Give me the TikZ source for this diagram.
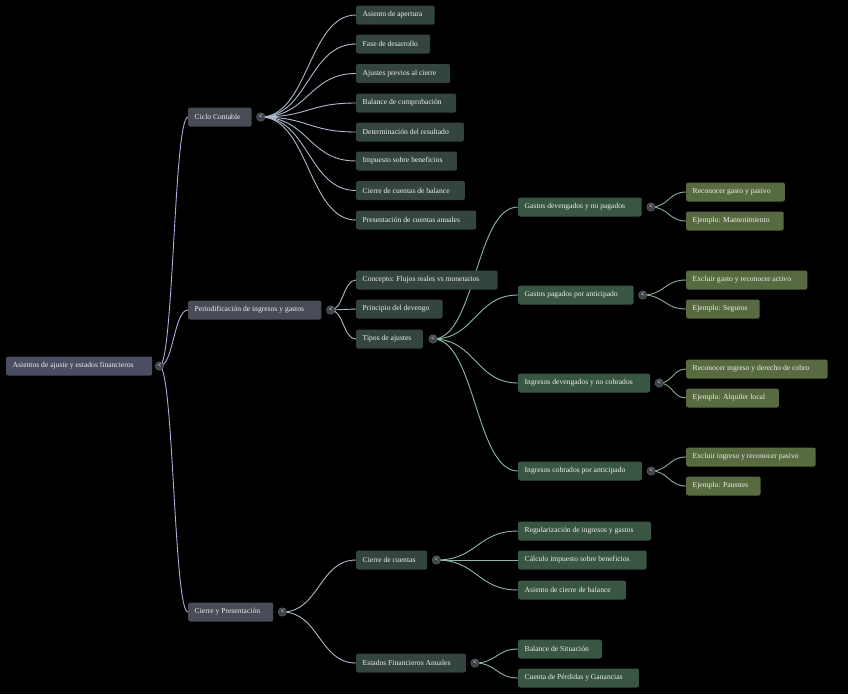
\documentclass[tikz,border=0pt]{standalone}
\usepackage{fontspec}
\setmainfont{Liberation Serif}
\usetikzlibrary{calc,backgrounds}
\definecolor{txt}{HTML}{EEEEEE}
\definecolor{rootfill}{HTML}{4B4E63}
\definecolor{onefill}{HTML}{474C57}
\definecolor{twofill}{HTML}{34453F}
\definecolor{threefill}{HTML}{385641}
\definecolor{fourfill}{HTML}{586B40}
\definecolor{togfill}{HTML}{3E4149}
\definecolor{togline}{HTML}{6A6E78}
\definecolor{rootlink}{HTML}{A9AEDC}
\definecolor{onelink}{HTML}{AEB9CC}
\definecolor{twolink}{HTML}{8DB9A3}
\definecolor{threelink}{HTML}{8AAE93}
% label with extra room on the right, growing with the text
\newcommand\padlbl[1]{\setbox0\hbox{#1}\copy0\kern0.1\wd0}

\begin{document}
\begin{tikzpicture}[x=1pt, y=-1pt,
  every node/.style={font=\fontsize{7.6}{9}\selectfont, text=txt},
  box/.style={rectangle, rounded corners=2pt, minimum height=19pt,
              inner xsep=6.5pt, inner ysep=0pt, anchor=west},
  rootbox/.style={box, fill=rootfill},
  lvlone/.style={box, fill=onefill},
  lvltwo/.style={box, fill=twofill},
  lvlthree/.style={box, fill=threefill},
  lvlfour/.style={box, fill=fourfill},
  tog/.style={circle, fill=togfill, draw=togline, line width=0.4pt,
              minimum size=8.5pt, inner sep=0pt,
              font=\fontsize{6.5}{6.5}\selectfont\bfseries},
  link/.style={line width=0.9pt, to path={let \p1=(\tikztostart), \p2=(\tikztotarget) in
               .. controls (\x1/2+\x2/2,\y1) and (\x1/2+\x2/2,\y2) .. (\tikztotarget)}}
]
\useasboundingbox (0,0) rectangle (848,694);

% root and first level
\node[rootbox] (R)  at (6,366)   {\padlbl{Asientos de ajuste y estados financieros}};
\node[lvlone]  (CC) at (188,117) {\padlbl{Ciclo Contable}};
\node[lvlone]  (PI) at (188,310) {\padlbl{Periodificación de ingresos y gastos}};
\node[lvlone]  (CP) at (188,612) {\padlbl{Cierre y Presentación}};

% Ciclo Contable
\node[lvltwo] (CC1) at (356,15)    {\padlbl{Asiento de apertura}};
\node[lvltwo] (CC2) at (356,44)    {\padlbl{Fase de desarrollo}};
\node[lvltwo] (CC3) at (356,73.5)  {\padlbl{Ajustes previos al cierre}};
\node[lvltwo] (CC4) at (356,103)   {\padlbl{Balance de comprobación}};
\node[lvltwo] (CC5) at (356,132)   {\padlbl{Determinación del resultado}};
\node[lvltwo] (CC6) at (356,161)   {\padlbl{Impuesto sobre beneficios}};
\node[lvltwo] (CC7) at (356,190.5) {\padlbl{Cierre de cuentas de balance}};
\node[lvltwo] (CC8) at (356,220)   {\padlbl{Presentación de cuentas anuales}};

% Periodificacion
\node[lvltwo] (PI1) at (356,280) {\padlbl{Concepto: Flujos reales vs monetarios}};
\node[lvltwo] (PI2) at (356,309) {\padlbl{Principio del devengo}};
\node[lvltwo] (PI3) at (356,339) {\padlbl{Tipos de ajustes}};

\node[lvlthree] (TA1) at (518,207) {\padlbl{Gastos devengados y no pagados}};
\node[lvlthree] (TA2) at (518,295) {\padlbl{Gastos pagados por anticipado}};
\node[lvlthree] (TA3) at (518,383) {\padlbl{Ingresos devengados y no cobrados}};
\node[lvlthree] (TA4) at (518,471) {\padlbl{Ingresos cobrados por anticipado}};

\node[lvlfour] (TA11) at (686,192) {\padlbl{Reconocer gasto y pasivo}};
\node[lvlfour] (TA12) at (686,221) {\padlbl{Ejemplo: Mantenimiento}};
\node[lvlfour] (TA21) at (686,280) {\padlbl{Excluir gasto y reconocer activo}};
\node[lvlfour] (TA22) at (686,309) {\padlbl{Ejemplo: Seguros}};
\node[lvlfour] (TA31) at (686,369) {\padlbl{Reconocer ingreso y derecho de cobro}};
\node[lvlfour] (TA32) at (686,398) {\padlbl{Ejemplo: Alquiler local}};
\node[lvlfour] (TA41) at (686,457) {\padlbl{Excluir ingreso y reconocer pasivo}};
\node[lvlfour] (TA42) at (686,486) {\padlbl{Ejemplo: Patentes}};

% Cierre y Presentacion
\node[lvltwo] (CP1) at (356,560) {\padlbl{Cierre de cuentas}};
\node[lvltwo] (CP2) at (356,663) {\padlbl{Estados Financieros Anuales}};

\node[lvlthree] (CP11) at (518,531) {\padlbl{Regularización de ingresos y gastos}};
\node[lvlthree] (CP12) at (518,560) {\padlbl{Cálculo impuesto sobre beneficios}};
\node[lvlthree] (CP13) at (518,590) {\padlbl{Asiento de cierre de balance}};
\node[lvlthree] (CP21) at (518,649) {\padlbl{Balance de Situación}};
\node[lvlthree] (CP22) at (518,678) {\padlbl{Cuenta de Pérdidas y Ganancias}};

% toggles
\node[tog] (Rx)   at ([xshift=7pt]R.east)    {<};
\node[tog] (CCx)  at ([xshift=9pt]CC.east)   {<};
\node[tog] (PIx)  at ([xshift=9pt]PI.east)   {<};
\node[tog] (CPx)  at ([xshift=9pt]CP.east)   {<};
\node[tog] (PI3x) at ([xshift=10pt]PI3.east) {<};
\node[tog] (TA1x) at ([xshift=9pt]TA1.east)  {<};
\node[tog] (TA2x) at ([xshift=9pt]TA2.east)  {<};
\node[tog] (TA3x) at ([xshift=9pt]TA3.east)  {<};
\node[tog] (TA4x) at ([xshift=9pt]TA4.east)  {<};
\node[tog] (CP1x) at ([xshift=9pt]CP1.east)  {<};
\node[tog] (CP2x) at ([xshift=9pt]CP2.east)  {<};

\begin{scope}[on background layer]
\fill[black] (0,0) rectangle (848,694);

\draw[link, rootlink] (Rx.center) to (CC.west);
\draw[link, rootlink] (Rx.center) to (PI.west);
\draw[link, rootlink] (Rx.center) to (CP.west);

\draw[link, onelink] (CCx.center) to (CC1.west);
\draw[link, onelink] (CCx.center) to (CC2.west);
\draw[link, onelink] (CCx.center) to (CC3.west);
\draw[link, onelink] (CCx.center) to (CC4.west);
\draw[link, onelink] (CCx.center) to (CC5.west);
\draw[link, onelink] (CCx.center) to (CC6.west);
\draw[link, onelink] (CCx.center) to (CC7.west);
\draw[link, onelink] (CCx.center) to (CC8.west);

\draw[link, onelink] (PIx.center) to (PI1.west);
\draw[link, onelink] (PIx.center) to (PI2.west);
\draw[link, onelink] (PIx.center) to (PI3.west);

\draw[link, twolink] (PI3x.center) to (TA1.west);
\draw[link, twolink] (PI3x.center) to (TA2.west);
\draw[link, twolink] (PI3x.center) to (TA3.west);
\draw[link, twolink] (PI3x.center) to (TA4.west);

\draw[link, threelink] (TA1x.center) to (TA11.west);
\draw[link, threelink] (TA1x.center) to (TA12.west);
\draw[link, threelink] (TA2x.center) to (TA21.west);
\draw[link, threelink] (TA2x.center) to (TA22.west);
\draw[link, threelink] (TA3x.center) to (TA31.west);
\draw[link, threelink] (TA3x.center) to (TA32.west);
\draw[link, threelink] (TA4x.center) to (TA41.west);
\draw[link, threelink] (TA4x.center) to (TA42.west);

\draw[link, onelink] (CPx.center) to (CP1.west);
\draw[link, onelink] (CPx.center) to (CP2.west);

\draw[link, twolink] (CP1x.center) to (CP11.west);
\draw[link, twolink] (CP1x.center) to (CP12.west);
\draw[link, twolink] (CP1x.center) to (CP13.west);
\draw[link, twolink] (CP2x.center) to (CP21.west);
\draw[link, twolink] (CP2x.center) to (CP22.west);
\end{scope}

\end{tikzpicture}
\end{document}
